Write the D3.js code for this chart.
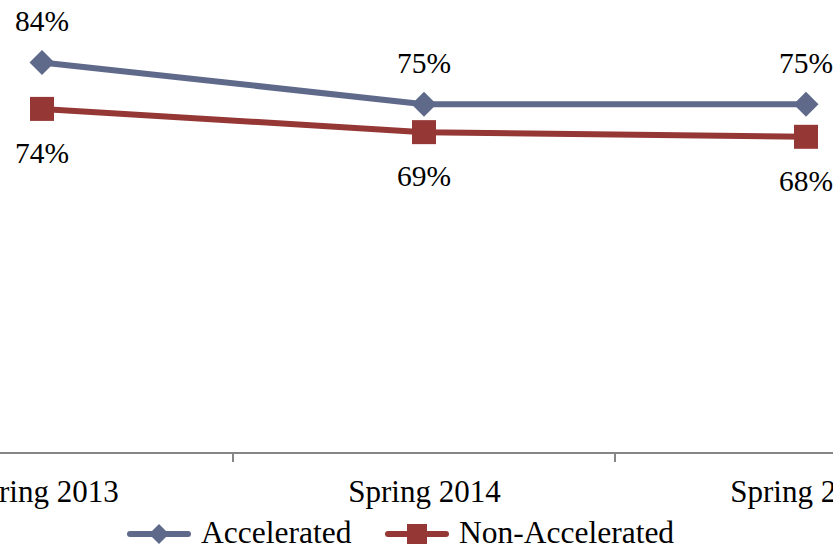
<!DOCTYPE html>
<html>
<head>
<meta charset="utf-8">
<script src="https://cdn.jsdelivr.net/npm/d3@7/dist/d3.min.js"></script>
<style>
  html, body { margin: 0; padding: 0; background: #fff; overflow: hidden; }
  svg text { font-family: "Liberation Serif", "DejaVu Serif", serif; }
</style>
</head>
<body>
<svg id="chart" width="833" height="547"></svg>
<script>
// Survey terms and percentages for each group
const terms = ["Spring 2013", "Spring 2014", "Spring 2015"];
const accelerated = [84, 75, 75];
const nonAccelerated = [74, 69, 68];
const seriesNames = ["Accelerated", "Non-Accelerated"];

const W = 833, H = 547;
const svg = d3.select("#chart");
const serif = "'Liberation Serif', 'DejaVu Serif', serif";

const x = d3.scaleBand().domain(terms).range([-149, 997]).paddingInner(0).paddingOuter(0);
const cx = d => x(d) + x.bandwidth() / 2;
const y = d3.scaleLinear().domain([0, 100]).range([453, -12]);

const colors = { acc: "#5F6A8B", non: "#953735" };
const labelSize = 29.5, axisSize = 31, legendSize = 31.5;

// Category axis
const axisY = y(0);
svg.append("line")
  .attr("x1", 0).attr("x2", W).attr("y1", axisY).attr("y2", axisY)
  .attr("stroke", "#868686").attr("stroke-width", 2);

const boundaries = terms.map(t => x(t)).concat([x(terms[terms.length - 1]) + x.bandwidth()]);
svg.selectAll(".tick-mark").data(boundaries).enter().append("line")
  .attr("class", "tick-mark")
  .attr("x1", d => d).attr("x2", d => d)
  .attr("y1", axisY).attr("y2", axisY + 9)
  .attr("stroke", "#868686").attr("stroke-width", 2);

const axis = d3.axisBottom(d3.scalePoint().domain(terms).range([cx(terms[0]), cx(terms[2])]))
  .tickSize(0).tickPadding(0);
const gAxis = svg.append("g").attr("transform", `translate(0,${axisY})`).call(axis)
  .attr("font-family", serif).attr("font-size", axisSize);
gAxis.select(".domain").remove();
gAxis.selectAll("text")
  .attr("dy", null).attr("y", 49)
  .attr("font-family", serif)
  .attr("font-size", axisSize).attr("fill", "#000");

// Lines
const line = d3.line().x((d, i) => cx(terms[i])).y(d => y(d));
svg.append("path").datum(accelerated).attr("d", line)
  .attr("fill", "none").attr("stroke", colors.acc).attr("stroke-width", 6);
svg.append("path").datum(nonAccelerated).attr("d", line)
  .attr("fill", "none").attr("stroke", colors.non).attr("stroke-width", 6);

// Markers
const diamond = (s) => `M0,${-s}L${s},0L0,${s}L${-s},0Z`;
svg.selectAll(".acc-mark").data(accelerated).enter().append("path")
  .attr("d", diamond(12.5))
  .attr("transform", (d, i) => `translate(${cx(terms[i])},${y(d)})`)
  .attr("fill", colors.acc);
svg.selectAll(".non-mark").data(nonAccelerated).enter().append("rect")
  .attr("x", (d, i) => cx(terms[i]) - 12).attr("y", d => y(d) - 12)
  .attr("width", 24).attr("height", 24)
  .attr("fill", colors.non);

// Value labels
svg.selectAll(".acc-lbl").data(accelerated).enter().append("text")
  .attr("x", (d, i) => cx(terms[i])).attr("y", d => y(d) - 31)
  .attr("text-anchor", "middle").attr("font-size", labelSize).attr("font-family", serif)
  .text(d => d + "%");
svg.selectAll(".non-lbl").data(nonAccelerated).enter().append("text")
  .attr("x", (d, i) => cx(terms[i])).attr("y", d => y(d) + 54)
  .attr("text-anchor", "middle").attr("font-size", labelSize).attr("font-family", serif)
  .text(d => d + "%");

// Legend
const legY = 534;
const leg = [
  { name: seriesNames[0], color: colors.acc, x0: 130, shape: "diamond" },
  { name: seriesNames[1], color: colors.non, x0: 388, shape: "square" }
];
leg.forEach(l => {
  const g = svg.append("g");
  g.append("line").attr("x1", l.x0).attr("x2", l.x0 + 58)
    .attr("y1", legY).attr("y2", legY)
    .attr("stroke", l.color).attr("stroke-width", 6).attr("stroke-linecap", "round");
  if (l.shape === "diamond") {
    g.append("path").attr("d", diamond(10)).attr("transform", `translate(${l.x0 + 29},${legY})`).attr("fill", l.color);
  } else {
    g.append("rect").attr("x", l.x0 + 29 - 10).attr("y", legY - 10).attr("width", 20).attr("height", 20).attr("fill", l.color);
  }
  g.append("text").attr("x", l.x0 + 71).attr("y", legY + 9)
    .attr("font-size", legendSize).attr("font-family", serif).text(l.name);
});
</script>
</body>
</html>
